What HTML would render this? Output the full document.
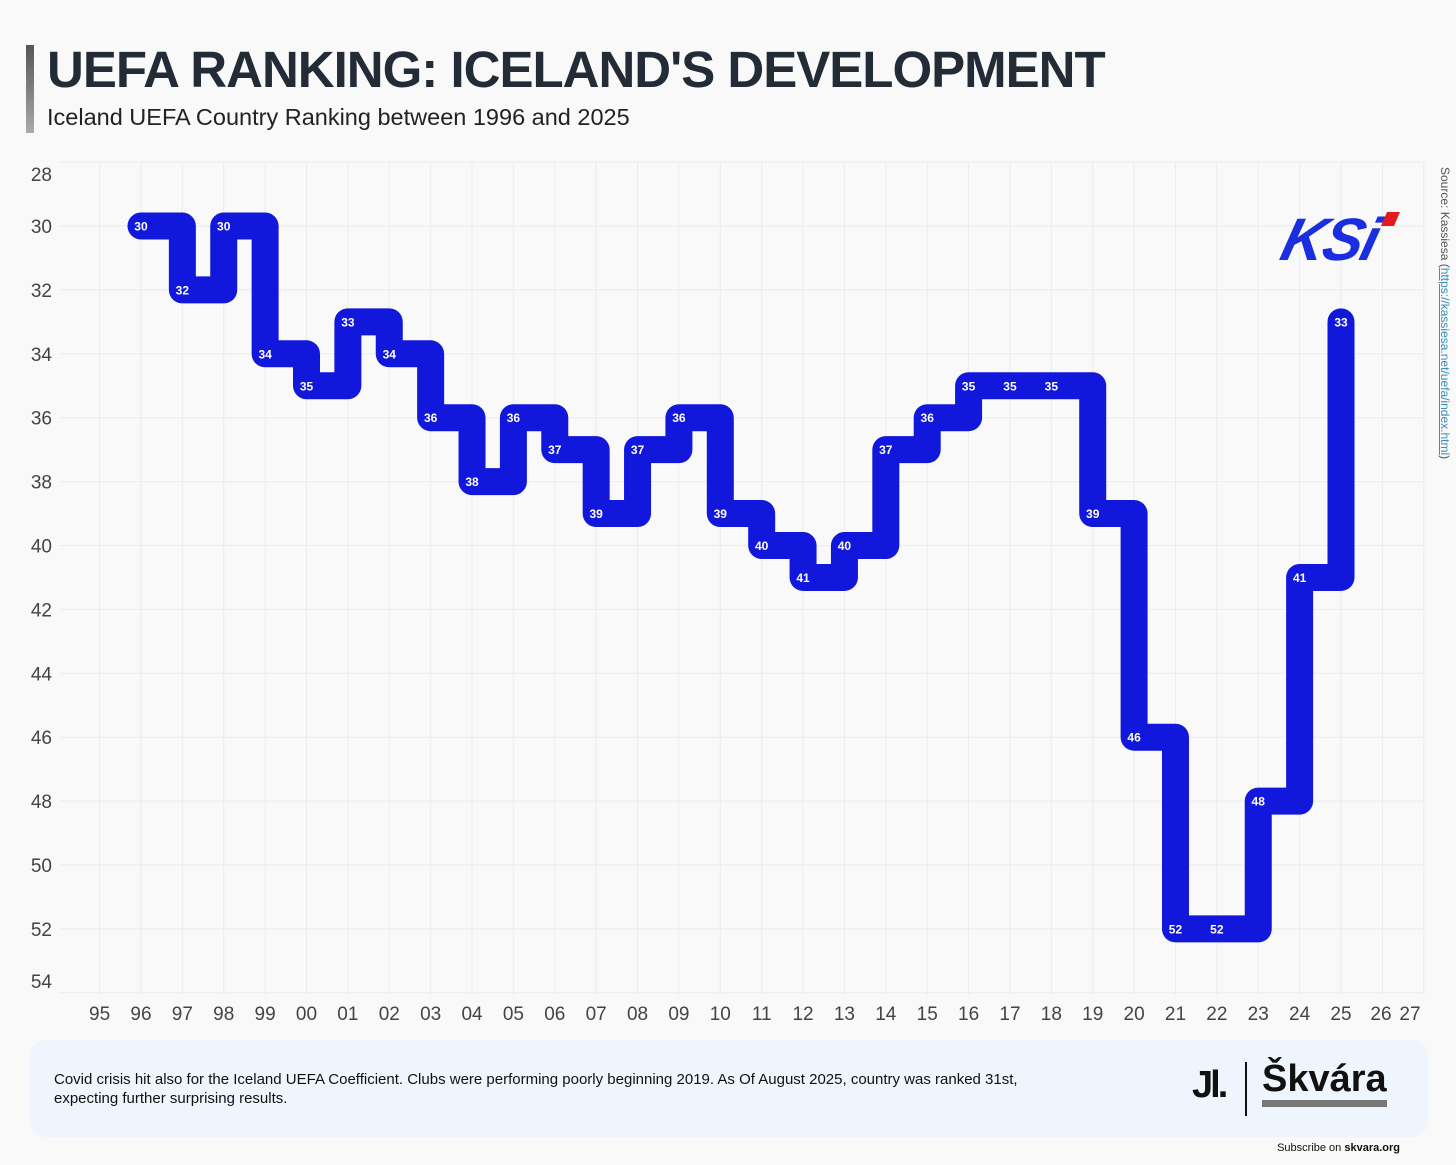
<!DOCTYPE html>
<html><head><meta charset="utf-8">
<style>
body{margin:0;width:1456px;height:1165px;background:#f9f9f9;font-family:"Liberation Sans",sans-serif;position:relative;overflow:hidden}
.bar{position:absolute;left:26px;top:45px;width:8px;height:88px;background:linear-gradient(#555,#aaa)}
h1{position:absolute;left:47px;top:40px;margin:0;font-size:51px;font-weight:bold;color:#222b36;letter-spacing:-1px}
.sub{position:absolute;left:47px;top:104px;font-size:23.5px;color:#222}
.foot{position:absolute;left:30px;top:1040px;width:1398px;height:97px;background:#eef5fd;border-radius:16px}
.ft{position:absolute;left:24px;top:30px;font-size:15px;color:#111;line-height:19px;width:1000px}
.sub2{position:absolute;right:56px;top:1142px;font-size:11px;color:#111}
</style></head><body>
<div class="bar"></div>
<h1>UEFA RANKING: ICELAND'S DEVELOPMENT</h1>
<div class="sub">Iceland UEFA Country Ranking between 1996 and 2025</div>
<svg id="chart" width="1456" height="1040" style="position:absolute;left:0;top:0"></svg>
<div class="foot">
<div class="ft">Covid crisis hit also for the Iceland UEFA Coefficient. Clubs were performing poorly beginning 2019. As Of August 2025, country was ranked 31st,<br>expecting further surprising results.</div>
<div style="position:absolute;left:1162px;top:24px;font-size:38px;font-weight:bold;color:#111;letter-spacing:-3px">Jl.</div>
<div style="position:absolute;left:1215px;top:22px;width:2px;height:54px;background:#111"></div>
<div style="position:absolute;left:1232px;top:20px;font-size:38px;font-weight:bold;color:#111;border-bottom:7px solid #777;line-height:38px;height:40px">Škvára</div>
</div>
<div class="sub2">Subscribe on <b>skvara.org</b></div>
<div style="position:absolute;left:1434px;top:167px;transform-origin:0 0;transform:translate(18px,0) rotate(90deg);font-size:12px;color:#555;white-space:nowrap">Source: Kassiesa (<span style="color:#3a8fb7;text-decoration:underline">https://kassiesa.net/uefa/index.html</span>)</div>
<script>
const years=[96,97,98,99,0,1,2,3,4,5,6,7,8,9,10,11,12,13,14,15,16,17,18,19,20,21,22,23,24,25];
const ranks=[30,32,30,34,35,33,34,36,38,36,37,39,37,36,39,40,41,40,37,36,35,35,35,39,46,52,52,48,41,33];
const yTicks=[28,30,32,34,36,38,40,42,44,46,48,50,52,54];
const xTickLabels=["95","96","97","98","99","00","01","02","03","04","05","06","07","08","09","10","11","12","13","14","15","16","17","18","19","20","21","22","23","24","25","26","27"];
const svg=document.getElementById('chart');const NS='http://www.w3.org/2000/svg';
const X=i=>99.6+i*41.38; // index from 1995
const Y=r=>226+(r-30)*31.95;
const yrIdx=y=>(y>=90?y-95:y+5);
function mk(t,a){const e=document.createElementNS(NS,t);for(const k in a)e.setAttribute(k,a[k]);svg.appendChild(e);return e;}
yTicks.forEach(v=>{const l=mk('line',{x1:60,x2:1425,y1:Y(v),y2:Y(v),stroke:'#ececec','stroke-width':1});


let ty=Y(v)+7;if(v==28)ty=181;if(v==54)ty=988;
const t=mk('text',{x:52,y:ty,'text-anchor':'end','font-size':19,fill:'#444','font-family':'Liberation Sans'});t.textContent=v;

});
xTickLabels.forEach((s,i)=>{if(X(i)<1425){const l=mk('line',{x1:X(i),x2:X(i),y1:162,y2:995,stroke:'#ececec','stroke-width':1});

}
let tx=X(i);if(i==31)tx=1381;if(i==32)tx=1410;
const t=mk('text',{x:tx,y:1020,'text-anchor':'middle','font-size':19,fill:'#444','font-family':'Liberation Sans'});t.textContent=s;

});
let d='';years.forEach((y,i)=>{const x=X(yrIdx(y)),yy=Y(ranks[i]);
if(i==0)d+='M'+x+' '+yy;else{d+=' H'+x+' V'+yy;}});
const p=mk('path',{d:d,fill:'none',stroke:'#1118dc','stroke-width':27,'stroke-linejoin':'round','stroke-linecap':'round'});


years.forEach((y,i)=>{const t=mk('text',{x:X(yrIdx(y)),y:Y(ranks[i])+4.5,'text-anchor':'middle','font-size':12,'font-weight':'bold',fill:'#fff','font-family':'Liberation Sans'});t.textContent=ranks[i];

});
const g=mk('g',{transform:'translate(1290,212)'});


g.innerHTML='<text x="0" y="48" font-size="60" font-weight="bold" font-style="italic" fill="#1a2ee0" font-family="Liberation Sans" letter-spacing="-2" transform="skewX(-14)">KSi</text><polygon points="97,0 110,0 104,14 91,14" fill="#e41b1b"/>';
</script>
</body></html>
